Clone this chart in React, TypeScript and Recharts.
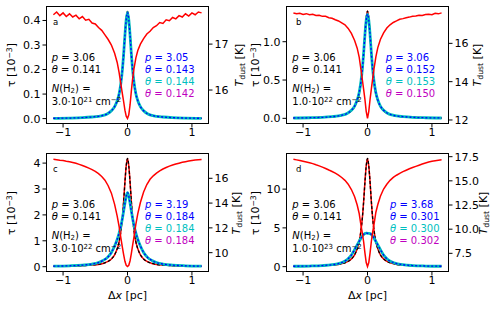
import { ComposedChart, Line, XAxis, YAxis } from 'recharts'

// x grids (pc)
const xsTau = [-1.15, -0.9, -0.7, -0.55, -0.45, -0.38, -0.31, -0.25, -0.2, -0.16, -0.13, -0.1, -0.08, -0.06, -0.04, -0.02, 0,
  0.02, 0.04, 0.06, 0.08, 0.1, 0.13, 0.16, 0.2, 0.25, 0.31, 0.38, 0.45, 0.55, 0.7, 0.9, 1.15]
const xsT = [-1.15, -1.1, -1.05, -1.0, -0.95, -0.9, -0.85, -0.8, -0.75, -0.7, -0.65, -0.6, -0.55, -0.5, -0.45, -0.4, -0.35, -0.3, -0.25, -0.2,
  -0.16, -0.13, -0.1, -0.08, -0.06, -0.04, -0.02, 0, 0.02, 0.04, 0.06, 0.08, 0.1, 0.13, 0.16,
  0.2, 0.25, 0.3, 0.35, 0.4, 0.45, 0.5, 0.55, 0.6, 0.65, 0.7, 0.75, 0.8, 0.85, 0.9, 0.95, 1.0, 1.05, 1.1, 1.15]

// panel a: tau [1e-3] and T_dust [K]
const tauModelA = [0.0013, 0.0022, 0.0039, 0.0066, 0.0092, 0.013, 0.02, 0.031, 0.048, 0.072, 0.1, 0.149, 0.197, 0.262, 0.341, 0.406, 0.437,
  0.406, 0.341, 0.262, 0.197, 0.149, 0.1, 0.072, 0.048, 0.031, 0.02, 0.013, 0.0092, 0.0066, 0.0039, 0.0022, 0.0013]
const tauFitA = [0.0013, 0.0022, 0.0039, 0.0066, 0.0093, 0.013, 0.02, 0.032, 0.049, 0.073, 0.101, 0.15, 0.198, 0.262, 0.339, 0.403, 0.433,
  0.403, 0.339, 0.262, 0.198, 0.15, 0.101, 0.073, 0.049, 0.032, 0.02, 0.013, 0.0093, 0.0066, 0.0039, 0.0022, 0.0013]
const tdustA = [17.64, 17.7, 17.62, 17.68, 17.6, 17.66, 17.59, 17.63, 17.55, 17.6, 17.52, 17.54, 17.46, 17.44, 17.36, 17.3, 17.2, 17.1, 16.98, 16.8,
  16.6, 16.38, 16.1, 15.92, 15.75, 15.56, 15.43, 15.38, 15.46, 15.68, 15.98, 16.25, 16.46, 16.7, 16.86,
  17.0, 17.12, 17.22, 17.28, 17.36, 17.4, 17.47, 17.45, 17.53, 17.51, 17.58, 17.55, 17.62, 17.59, 17.66, 17.61, 17.68, 17.64, 17.7, 17.68]

// panel b
const tauModelB = [0.0042, 0.007, 0.0126, 0.021, 0.029, 0.042, 0.064, 0.1, 0.154, 0.231, 0.322, 0.476, 0.63, 0.84, 1.092, 1.302, 1.4,
  1.302, 1.092, 0.84, 0.63, 0.476, 0.322, 0.231, 0.154, 0.1, 0.064, 0.042, 0.029, 0.021, 0.0126, 0.007, 0.0042]
const tauFitB = [0.0045, 0.0075, 0.013, 0.022, 0.031, 0.044, 0.067, 0.105, 0.16, 0.24, 0.335, 0.49, 0.645, 0.85, 1.09, 1.28, 1.36,
  1.28, 1.09, 0.85, 0.645, 0.49, 0.335, 0.24, 0.16, 0.105, 0.067, 0.044, 0.031, 0.022, 0.013, 0.0075, 0.0045]
const tdustB = [17.58, 17.54, 17.57, 17.51, 17.55, 17.49, 17.52, 17.46, 17.47, 17.41, 17.41, 17.34, 17.31, 17.23, 17.17, 17.07, 16.97, 16.78, 16.52, 16.15,
  15.75, 15.3, 14.6, 14.1, 13.6, 13.08, 12.45, 12.08, 12.45, 13.08, 13.62, 14.15, 14.65, 15.3, 15.78,
  16.2, 16.55, 16.8, 16.97, 17.09, 17.17, 17.26, 17.29, 17.34, 17.37, 17.41, 17.43, 17.47, 17.46, 17.51, 17.52, 17.5, 17.57, 17.54, 17.59]

// panel c
const tauModelC = [0.0125, 0.021, 0.038, 0.063, 0.088, 0.125, 0.192, 0.3, 0.46, 0.69, 0.96, 1.42, 1.88, 2.51, 3.26, 3.89, 4.18,
  3.89, 3.26, 2.51, 1.88, 1.42, 0.96, 0.69, 0.46, 0.3, 0.192, 0.125, 0.088, 0.063, 0.038, 0.021, 0.0125]
const tauFitC = [0.02, 0.035, 0.06, 0.1, 0.16, 0.24, 0.36, 0.55, 0.8, 1.05, 1.3, 1.6, 1.85, 2.15, 2.45, 2.72, 2.86,
  2.72, 2.45, 2.15, 1.85, 1.6, 1.3, 1.05, 0.8, 0.55, 0.36, 0.24, 0.16, 0.1, 0.06, 0.035, 0.02]
const tdustC = [17.53, 17.5, 17.46, 17.43, 17.38, 17.34, 17.28, 17.21, 17.12, 17.03, 16.93, 16.82, 16.7, 16.55, 16.38, 16.15, 15.85, 15.4, 14.8, 13.9,
  12.95, 12.1, 11.1, 10.45, 9.85, 9.3, 8.98, 8.88, 8.98, 9.35, 9.95, 10.6, 11.25, 12.3, 13.15,
  14.05, 14.9, 15.5, 15.92, 16.2, 16.42, 16.6, 16.75, 16.87, 16.98, 17.07, 17.15, 17.22, 17.29, 17.34, 17.39, 17.44, 17.47, 17.5, 17.52]

// panel d
const tauModelD = [0.042, 0.07, 0.126, 0.21, 0.29, 0.42, 0.64, 1.0, 1.53, 2.3, 3.2, 4.74, 6.28, 8.37, 10.88, 12.97, 13.95,
  12.97, 10.88, 8.37, 6.28, 4.74, 3.2, 2.3, 1.53, 1.0, 0.64, 0.42, 0.29, 0.21, 0.126, 0.07, 0.042]
const tauFitD = [0.05, 0.08, 0.14, 0.25, 0.4, 0.6, 0.95, 1.5, 2.2, 2.8, 3.25, 3.7, 3.95, 4.15, 4.28, 4.32, 4.3,
  4.3, 4.26, 4.15, 3.95, 3.7, 3.25, 2.8, 2.2, 1.5, 0.95, 0.6, 0.4, 0.25, 0.14, 0.08, 0.05]
const tdustD = [17.23, 17.17, 17.1, 17.03, 16.95, 16.87, 16.78, 16.66, 16.55, 16.42, 16.28, 16.12, 15.97, 15.8, 15.6, 15.35, 15.05, 14.65, 14.1, 13.35,
  12.5, 11.65, 10.35, 9.6, 8.7, 7.55, 6.55, 6.13, 6.55, 7.55, 8.75, 9.7, 10.45, 11.75, 12.55,
  13.4, 14.15, 14.65, 15.05, 15.35, 15.58, 15.78, 15.95, 16.1, 16.25, 16.38, 16.5, 16.62, 16.74, 16.85, 16.94, 17.02, 17.08, 17.14, 17.18]

const xTicks = [-1, 0, 1]
const tauTicksA = [0, 0.1, 0.2, 0.3, 0.4]
const tauTicksB = [0, 0.5, 1.0]
const tauTicksC = [0, 1, 2, 3, 4]
const tauTicksD = [0, 5, 10]
const tTicksA = [16, 17]
const tTicksB = [12, 14, 16]
const tTicksC = [10, 12, 14, 16]
const tTicksD = [7.5, 10, 12.5, 15, 17.5]

const FONT = '"DejaVu Sans", sans-serif'
const FS = 11
const AFS = 10 // annotation text
const tickStyle = { fill: '#000', fontSize: FS, fontFamily: FONT }
const minus = (s: string) => s.replace('-', '\u2212')

const panels = [
  {
    left: 0, top: 0, w: 250, h: 150, mt: 6, wl: 46, wr: 41, hx: 26,
    model: tauModelA, fit: tauFitA, tdust: tdustA,
    tauDomain: [-0.022, 0.459], tauTicks: tauTicksA, tauFmt: (v: number) => v.toFixed(1),
    tDomain: [15.26, 17.83], tTicks: tTicksA, tFmt: (v: number) => String(v),
  },
  {
    left: 250, top: 0, w: 251, h: 150, mt: 6, wl: 36, wr: 52, hx: 26,
    model: tauModelB, fit: tauFitB, tdust: tdustB,
    tauDomain: [-0.074, 1.466], tauTicks: tauTicksB, tauFmt: (v: number) => v.toFixed(1),
    tDomain: [11.79, 17.95], tTicks: tTicksB, tFmt: (v: number) => String(v),
  },
  {
    left: 0, top: 150, w: 250, h: 160, mt: 3, wl: 46, wr: 41, hx: 38,
    model: tauModelC, fit: tauFitC, tdust: tdustC,
    tauDomain: [-0.205, 4.39], tauTicks: tauTicksC, tauFmt: (v: number) => String(v),
    tDomain: [8.44, 18.04], tTicks: tTicksC, tFmt: (v: number) => String(v),
  },
  {
    left: 250, top: 150, w: 251, h: 160, mt: 3, wl: 36, wr: 52, hx: 38,
    model: tauModelD, fit: tauFitD, tdust: tdustD,
    tauDomain: [-0.69, 14.66], tauTicks: tauTicksD, tauFmt: (v: number) => String(v),
    tDomain: [5.57, 17.88], tTicks: tTicksD, tFmt: (v: number) => v.toFixed(1),
  },
]

type Cfg = (typeof panels)[number]

function Panel({ cfg }: { cfg: Cfg }) {
  const tauRows = xsTau.map((x, i) => ({ x, model: cfg.model[i], fit: cfg.fit[i] }))
  const tRows = xsT.map((x, i) => ({ x, t: cfg.tdust[i] }))
  const plotW = cfg.w - cfg.wl - cfg.wr
  const plotH = cfg.h - cfg.mt - cfg.hx
  return (
    <div style={{ position: 'absolute', left: cfg.left, top: cfg.top, width: cfg.w, height: cfg.h }}>
      <ComposedChart width={cfg.w} height={cfg.h} margin={{ top: cfg.mt, right: 0, bottom: 0, left: 0 }}>
        <XAxis type="number" dataKey="x" domain={[-1.265, 1.265]} allowDataOverflow ticks={xTicks}
          tickFormatter={(v: number) => minus(String(v))} height={cfg.hx} axisLine={false}
          tickLine={{ stroke: '#000' }} tickSize={3.5} tickMargin={1} tick={tickStyle} interval={0} />
        <YAxis yAxisId="tau" orientation="left" type="number" domain={cfg.tauDomain} allowDataOverflow
          ticks={cfg.tauTicks} tickFormatter={cfg.tauFmt} width={cfg.wl} axisLine={false}
          tickLine={{ stroke: '#000' }} tickSize={3.5} tickMargin={2} tick={tickStyle} interval={0} />
        <YAxis yAxisId="t" orientation="right" type="number" domain={cfg.tDomain} allowDataOverflow
          ticks={cfg.tTicks} tickFormatter={cfg.tFmt} width={cfg.wr} axisLine={false}
          tickLine={{ stroke: '#000' }} tickSize={3.5} tickMargin={2} tick={tickStyle} interval={0} />
        <Line yAxisId="tau" data={tauRows} dataKey="model" type="monotone" stroke="#ff0000" strokeWidth={1.5} dot={false} isAnimationActive={false} />
        <Line yAxisId="tau" data={tauRows} dataKey="model" type="monotone" stroke="#000" strokeWidth={1.3} strokeDasharray="3 2" dot={false} isAnimationActive={false} />
        <Line yAxisId="tau" data={tauRows} dataKey="fit" type="monotone" stroke="#bf00bf" strokeWidth={1.5} dot={false} isAnimationActive={false} />
        <Line yAxisId="tau" data={tauRows} dataKey="fit" type="monotone" stroke="#00bfbf" strokeWidth={2.8} dot={false} isAnimationActive={false} />
        <Line yAxisId="tau" data={tauRows} dataKey="fit" type="monotone" stroke="#0000ff" strokeWidth={1.3} strokeDasharray="2 2" dot={false} isAnimationActive={false} />
        <Line yAxisId="t" data={tRows} dataKey="t" type="linear" stroke="#ff0000" strokeWidth={1.5} dot={false} isAnimationActive={false} />
      </ComposedChart>
      <div style={{ position: 'absolute', left: cfg.wl, top: cfg.mt, width: plotW, height: plotH, border: '1px solid #000', boxSizing: 'border-box', pointerEvents: 'none' }} />
    </div>
  )
}

const T = ({ x, y, color = '#000', size = AFS, children }: { x: number; y: number; color?: string; size?: number; children: React.ReactNode }) => (
  <div style={{ position: 'absolute', left: x, top: y, transform: 'translateY(-50%)', color, fontSize: size, fontFamily: FONT, whiteSpace: 'nowrap', lineHeight: `${Math.round(size * 0.9)}px` }}>
    {children}
  </div>
)

const VLabel = ({ x, y, children }: { x: number; y: number; children: React.ReactNode }) => (
  <div style={{ position: 'absolute', left: x, top: y, transform: 'translate(-50%, -50%) rotate(-90deg)', fontSize: FS, fontFamily: FONT, whiteSpace: 'nowrap', lineHeight: '10px', color: '#000' }}>
    {children}
  </div>
)

const sub = { fontSize: '0.7em', position: 'relative' as const, top: '0.2em' }
const sup = { fontSize: '0.7em', position: 'relative' as const, top: '-0.4em' }

const tauLabel = <span>τ [10<span style={sup}>−3</span>]</span>
const tLabel = <span><i>T</i><span style={sub}>dust</span> [K]</span>

const texts = [
  { dx: 0, dy: 0, tag: 'a', col: [
    { c: '#0000ff', t: <><i>p</i> = 3.05</> }, { c: '#0000ff', t: <><i>θ</i> = 0.143</> },
    { c: '#00bfbf', t: <><i>θ</i> = 0.144</> }, { c: '#bf00bf', t: <><i>θ</i> = 0.142</> }], rx: 145, n: '3.0', e: '21' },
  { dx: 250, dy: 0, tag: 'b', col: [
    { c: '#0000ff', t: <><i>p</i> = 3.06</> }, { c: '#0000ff', t: <><i>θ</i> = 0.152</> },
    { c: '#00bfbf', t: <><i>θ</i> = 0.153</> }, { c: '#bf00bf', t: <><i>θ</i> = 0.150</> }], rx: 385.7, n: '1.0', e: '22' },
  { dx: 0, dy: 147, tag: 'c', col: [
    { c: '#0000ff', t: <><i>p</i> = 3.19</> }, { c: '#0000ff', t: <><i>θ</i> = 0.184</> },
    { c: '#00bfbf', t: <><i>θ</i> = 0.184</> }, { c: '#bf00bf', t: <><i>θ</i> = 0.184</> }], rx: 145, n: '3.0', e: '22' },
  { dx: 250, dy: 147, tag: 'd', col: [
    { c: '#0000ff', t: <><i>p</i> = 3.68</> }, { c: '#0000ff', t: <><i>θ</i> = 0.301</> },
    { c: '#00bfbf', t: <><i>θ</i> = 0.300</> }, { c: '#bf00bf', t: <><i>θ</i> = 0.302</> }], rx: 390, n: '1.0', e: '23' },
]

export default function App() {
  return (
    <div style={{ position: 'absolute', left: 0, top: 0, width: 501, height: 310, background: '#fff', overflow: 'hidden' }}>
      {panels.map((p, i) => <Panel key={i} cfg={p} />)}
      {texts.map((t, i) => {
        const lx = t.dx + (t.dx ? 42.3 : 51.7)
        return (
          <div key={i}>
            <T x={t.dx + (t.dx ? 46 : 53)} y={t.dy + 22} size={8.5}>{t.tag}</T>
            <T x={lx} y={t.dy + 57}><i>p</i> = 3.06</T>
            <T x={lx} y={t.dy + 69}><i>θ</i> = 0.141</T>
            <T x={lx} y={t.dy + 89}><i>N</i>(H<span style={sub}>2</span>) =</T>
            <T x={lx} y={t.dy + 102}>{t.n}·10<span style={sup}>{t.e}</span> cm<span style={sup}>−2</span></T>
            {t.col.map((c, j) => (
              <T key={j} x={t.rx} y={t.dy + 56.5 + j * 12} color={c.c}>{c.t}</T>
            ))}
          </div>
        )
      })}
      <VLabel x={12} y={65}>{tauLabel}</VLabel>
      <VLabel x={256} y={65}>{tauLabel}</VLabel>
      <VLabel x={12} y={212.5}>{tauLabel}</VLabel>
      <VLabel x={256} y={212.5}>{tauLabel}</VLabel>
      <VLabel x={240} y={65}>{tLabel}</VLabel>
      <VLabel x={478} y={65}>{tLabel}</VLabel>
      <VLabel x={237} y={212.5}>{tLabel}</VLabel>
      <VLabel x={484} y={212.5}>{tLabel}</VLabel>
      <T x={108} y={296} size={FS}>Δ<i>x</i> [pc]</T>
      <T x={348} y={296} size={FS}>Δ<i>x</i> [pc]</T>
    </div>
  )
}
